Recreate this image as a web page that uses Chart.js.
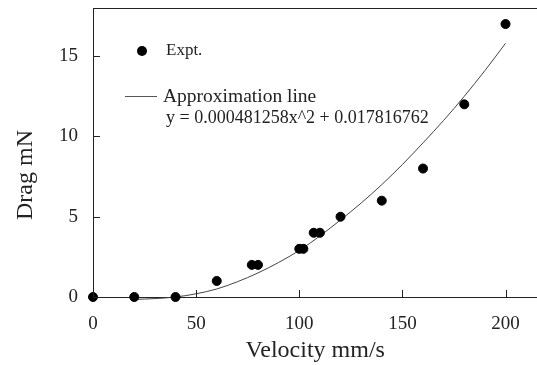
<!DOCTYPE html>
<html lang="en">
<head>
  <meta charset="utf-8" />
  <title>Drag vs velocity</title>
  <script src="https://cdn.jsdelivr.net/npm/chart.js"></script>
  <style>
    html, body { margin: 0; background: #fff; overflow: hidden; }
    /* a little wider than the window: the original frame runs off the right edge */
    #wrap { width: 543px; height: 365px; position: relative; }
  </style>
</head>
<body>
  <div id="wrap"><canvas id="chart"></canvas></div>

  <script>
    // measured points (velocity mm/s, drag mN)
    const exptVelocity = [0, 20, 40, 60, 77, 80, 100, 102, 107, 110, 120, 140, 160, 180, 200];
    const exptDrag     = [0, 0, 0, 1, 2, 2, 3, 3, 4, 4, 5, 6, 8, 12, 17];

    // approximation curve
    const fitVelocity = [20, 30, 40, 50, 60, 70, 80, 90, 100, 110, 120, 130, 140, 150, 160, 170, 180, 190, 200];
    const fitDrag     = [-0.15, -0.1, 0, 0.2, 0.5, 0.95, 1.5, 2.15, 2.9, 3.8, 4.8, 5.85, 7.0, 8.25, 9.6, 11.0, 12.5, 14.1, 15.8];

    // tick marks (all) and the ones that carry a label
    const xTicks = [0, 25, 50, 75, 100, 125, 150, 175, 200];
    const yTicks = [0, 2.5, 5, 7.5, 10, 12.5, 15, 17.5];
    const xTickLabels = [0, 50, 100, 150, 200];
    const yTickLabels = [0, 5, 10, 15];

    const serif = '"Liberation Serif", "Times New Roman", serif';
    const ink = '#222';

    const toXY = (xs, ys) => xs.map((x, i) => ({ x, y: ys[i] }));

    // inward tick marks, top frame line, y title and the hand-placed legend
    const decor = {
      id: 'decor',
      afterDraw(chart) {
        const { ctx, chartArea: a, scales: { x, y } } = chart;
        ctx.save();
        ctx.strokeStyle = ink;
        ctx.lineWidth = 1;
        ctx.beginPath();
        x.ticks.forEach(t => {
          const px = Math.round(x.getPixelForValue(t.value)) + 0.5;
          const len = xTickLabels.includes(t.value) ? 7 : 5;
          ctx.moveTo(px, a.bottom);
          ctx.lineTo(px, a.bottom - len);
        });
        y.ticks.forEach(t => {
          const py = Math.round(y.getPixelForValue(t.value)) + 0.5;
          const len = yTickLabels.includes(t.value) ? 7 : 5;
          ctx.moveTo(a.left, py);
          ctx.lineTo(a.left + len, py);
        });
        ctx.moveTo(a.left, a.top + 0.5);
        ctx.lineTo(a.right, a.top + 0.5);
        ctx.stroke();

        // y axis title, sits a bit below centre in the original
        ctx.fillStyle = ink;
        ctx.save();
        ctx.translate(26, 175);
        ctx.rotate(-Math.PI / 2);
        ctx.font = '24px ' + serif;
        ctx.textAlign = 'center';
        ctx.textBaseline = 'middle';
        ctx.fillText('Drag mN', 0, 0);
        ctx.restore();

        // legend
        ctx.fillStyle = '#000';
        ctx.beginPath();
        ctx.arc(142, 51, 5, 0, Math.PI * 2);
        ctx.fill();
        ctx.fillStyle = ink;
        ctx.textBaseline = 'middle';
        ctx.font = '17px ' + serif;
        ctx.fillText('Expt.', 166, 51);

        ctx.strokeStyle = '#555';
        ctx.beginPath();
        ctx.moveTo(125, 96.5);
        ctx.lineTo(157, 96.5);
        ctx.stroke();
        ctx.font = '19.5px ' + serif;
        ctx.fillText('Approximation line', 163, 97);
        ctx.font = '18px ' + serif;
        ctx.fillText('y = 0.000481258x^2 + 0.017816762', 166, 118);
        ctx.restore();
      }
    };

    new Chart(document.getElementById('chart'), {
      type: 'scatter',
      data: {
        datasets: [
          {
            label: 'Expt.',
            data: toXY(exptVelocity, exptDrag),
            backgroundColor: '#000',
            borderColor: '#000',
            pointRadius: 4.5,
            pointHoverRadius: 4.5,
            clip: false,
            order: 1
          },
          {
            label: 'Approximation line',
            data: toXY(fitVelocity, fitDrag),
            showLine: true,
            borderColor: '#444',
            borderWidth: 1,
            pointRadius: 0,
            tension: 0.4,
            cubicInterpolationMode: 'monotone',
            clip: false,
            order: 2
          }
        ]
      },
      options: {
        responsive: true,
        maintainAspectRatio: false,
        animation: false,
        layout: { padding: { top: 8, right: 0, left: 0, bottom: 0 } },
        plugins: {
          legend: { display: false },
          tooltip: { enabled: false }
        },
        scales: {
          x: {
            type: 'linear',
            min: 0,
            max: 215.5,
            afterBuildTicks: s => { s.ticks = xTicks.map(v => ({ value: v })); },
            afterFit: s => { s.height = 68; s.paddingLeft = 0; s.paddingRight = 0; },
            grid: { display: false },
            border: { display: true, color: ink, width: 1 },
            ticks: {
              autoSkip: false,
              maxRotation: 0,
              padding: 8,
              color: ink,
              font: { family: serif, size: 19 },
              callback: v => xTickLabels.includes(v) ? String(v) : null
            },
            title: {
              display: true,
              text: 'Velocity mm/s',
              color: ink,
              font: { family: serif, size: 24 },
              padding: { top: 5, bottom: 0 }
            }
          },
          y: {
            type: 'linear',
            min: 0,
            max: 18,
            afterBuildTicks: s => { s.ticks = yTicks.map(v => ({ value: v })); },
            afterFit: s => { s.width = 93; s.paddingTop = 0; s.paddingBottom = 0; },
            grid: { display: false },
            border: { display: true, color: ink, width: 1 },
            ticks: {
              autoSkip: false,
              padding: 7,
              color: ink,
              font: { family: serif, size: 19 },
              callback: v => yTickLabels.includes(v) ? String(v) : null
            },
            title: { display: false }
          }
        }
      },
      plugins: [decor]
    });
  </script>
</body>
</html>
